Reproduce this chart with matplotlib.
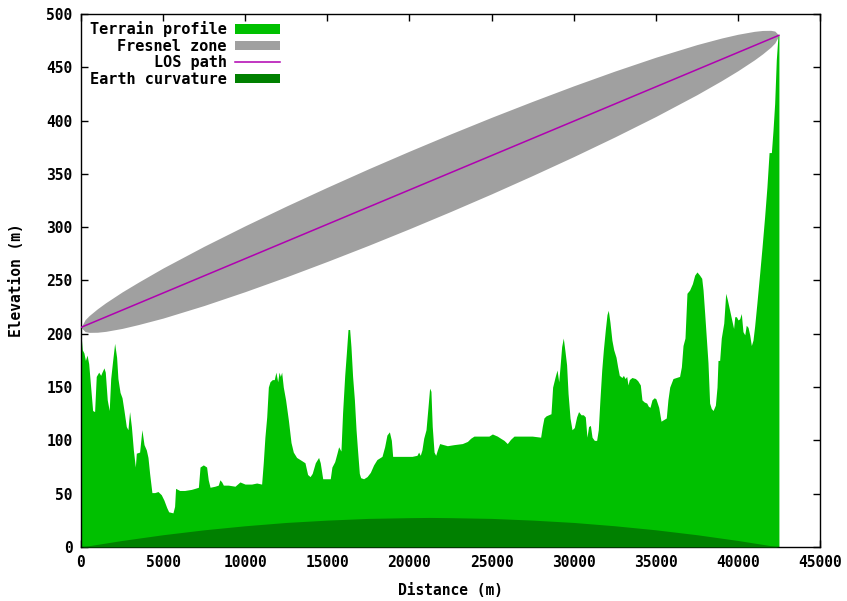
import matplotlib
matplotlib.use('Agg')
import matplotlib.pyplot as plt
import numpy as np

# terrain profile: distance (m), elevation (m)
terrain_dist = [
    0, 80, 180, 270, 370, 470, 590, 710, 830, 930, 1080, 1200, 1280, 1400, 1480,
    1600, 1720, 1810, 1930, 2050, 2170, 2250, 2380, 2500, 2620, 2760, 2860, 2960,
    3070, 3190, 3310, 3370, 3570, 3710, 3840, 3980, 4080, 4180, 4320, 4490, 4690,
    4890, 5050, 5220, 5340, 5600, 5700, 5760, 6010, 6310, 6720, 6940, 7150, 7250,
    7450, 7650, 7750, 7860, 8160, 8360, 8460, 8570, 8670, 8970, 9380, 9680, 9990,
    10390, 10700, 11000, 11100, 11200, 11310, 11410, 11510, 11650, 11770, 11870,
    11980, 12060, 12140, 12220, 12320, 12460, 12630, 12790, 12930, 13130, 13440,
    13640, 13800, 13950, 14080, 14270, 14470, 14570, 14720, 15180, 15280, 15450,
    15590, 15690, 15830, 15930, 16060, 16160, 16260, 16360, 16440, 16540, 16650,
    16750, 16830, 16950, 17030, 17210, 17420, 17620, 17820, 18020, 18330, 18490,
    18630, 18780, 18900, 18980, 19340, 20160, 20460, 20560, 20660, 20760, 20870,
    21010, 21130, 21230, 21310, 21390, 21500, 21600, 21700, 21840, 22310, 22710,
    23220, 23530, 23730, 23930, 24840, 25050, 25350, 25550, 25760, 25960, 26160,
    26370, 27480, 27990, 28090, 28190, 28320, 28620, 28720, 28880, 28990, 29090,
    29170, 29270, 29370, 29470, 29570, 29660, 29780, 29900, 30040, 30180, 30300,
    30450, 30590, 30710, 30810, 30910, 31020, 31120, 31260, 31400, 31500, 31600,
    31710, 31810, 31930, 32030, 32110, 32210, 32330, 32440, 32580, 32680, 32780,
    32940, 33030, 33130, 33230, 33310, 33390, 33550, 33760, 33900, 34060, 34160,
    34300, 34450, 34550, 34650, 34770, 34910, 35010, 35180, 35320, 35640, 35740,
    35850, 36050, 36250, 36450, 36560, 36660, 36780, 36900, 37060, 37230, 37370,
    37510, 37670, 37800, 37880, 37980, 38080, 38180, 38280, 38380, 38490, 38630,
    38730, 38790, 38890, 38990, 39140, 39260, 39360, 39500, 39640, 39740, 39810,
    39910, 40010, 40110, 40210, 40310, 40420, 40510, 40620, 40720, 40820, 40920,
    41020, 41160, 41330, 41470, 41630, 41770, 41900, 42040, 42140, 42240, 42340,
    42440, 42500,
]
terrain_elev = [
    200, 185, 182, 175, 180, 172, 150, 128, 127, 160, 164, 161, 164, 168, 164,
    138, 128, 158, 175, 191, 178, 158, 145, 140, 128, 113, 110, 127,
    113, 91, 75, 88, 89, 110, 96, 91, 84, 69, 51, 51, 52,
    49, 44, 37, 33, 32, 38, 55, 53, 53, 54, 55, 56, 75,
    77, 75, 63, 56, 57, 58, 63, 61, 58, 58, 57, 61, 59,
    59, 60, 59, 79, 103, 122, 150, 155, 157, 157, 164,
    155, 164, 160, 164, 150, 138, 119, 98, 89, 84, 81,
    79, 68, 66, 69, 79, 84, 79, 64, 64, 75, 80,
    88, 94, 90, 126, 161, 182, 204, 204, 188, 160, 138,
    110, 93, 69, 65, 64, 66, 70, 77, 82, 85, 94,
    105, 108, 100, 85, 85, 85, 86, 89, 86, 91, 102,
    110, 131, 149, 146, 113, 89, 86, 91, 97, 95, 96,
    97, 99, 102, 104, 104, 106, 104, 102, 100, 97, 101,
    104, 104, 103, 113, 121, 123, 125, 150, 160, 166, 155,
    169, 188, 196, 184, 171, 144, 121, 110, 112, 122, 127,
    124, 124, 122, 103, 113, 114, 103, 100, 100, 110, 138,
    166, 185, 204, 218, 222, 211, 194, 185, 178, 169, 161,
    159, 161, 158, 160, 152, 157, 159, 158, 156, 152, 138,
    136, 135, 132, 131, 138, 140, 139, 131, 118, 121, 138,
    150, 158, 159, 160, 169, 189, 196, 238, 241, 247, 255,
    258, 255, 252, 241, 219, 196, 173, 135, 130, 128, 133,
    150, 175, 175, 196, 210, 238, 232, 222, 212, 205, 216,
    216, 213, 214, 219, 202, 199, 208, 206, 199, 189, 194,
    207, 229, 257, 281, 310, 338, 370, 370, 391, 416, 457,
    479, 480,
]

# line of sight end points
los_dist = [0, 42500]
los_elev = [206, 480]

# first Fresnel zone radius (m) along the path
fresnel_dist = [0, 250, 500, 1000, 1500, 2500, 3500, 5000, 7500, 10000, 12500,
                15000, 17500, 20000, 21250, 22500, 25000, 27500, 30000, 32500,
                35000, 37500, 39000, 40000, 41000, 41500, 42000, 42250, 42500]
fresnel_rad = [0, 5.6, 7.9, 11.0, 13.4, 17.1, 19.9, 23.5, 27.8, 30.9, 33.2,
               34.8, 35.9, 36.4, 36.4, 36.4, 35.9, 34.8, 33.2, 30.9,
               27.8, 23.5, 20.0, 17.1, 13.4, 11.0, 7.9, 5.6, 0]

# earth curvature bulge (m)
curve_dist = [0, 2500, 5000, 7500, 10000, 12500, 15000, 17500, 20000, 21250,
              22500, 25000, 27500, 30000, 32500, 35000, 37500, 40000, 42500]
curve_elev = [0, 6.1, 11.5, 16.1, 19.9, 23.0, 25.2, 26.8, 27.5, 27.7,
              27.5, 26.8, 25.2, 23.0, 19.9, 16.1, 11.5, 6.1, 0]

plt.rcParams['font.family'] = 'DejaVu Sans Mono'
plt.rcParams['font.weight'] = 'bold'
plt.rcParams['font.size'] = 10.5

fig = plt.figure(figsize=(8.47, 6.01), dpi=100)
ax = fig.add_axes([0.0956, 0.0899, 0.8725, 0.8868])

fd = np.array(fresnel_dist, dtype=float)
fr = np.array(fresnel_rad)
los_at_f = np.interp(fd, los_dist, los_elev)

fres = ax.fill_between(fd, los_at_f - fr, los_at_f + fr, color='#a0a0a0',
                       linewidth=0, label='Fresnel zone', zorder=1)
terr = ax.fill_between(terrain_dist, 0, terrain_elev, color='#00c000',
                       linewidth=0, label='Terrain profile', zorder=2)
los, = ax.plot(los_dist, los_elev, color='#b000b0', linewidth=1.1,
               label='LOS path', zorder=3)
curv = ax.fill_between(curve_dist, 0, curve_elev, color='#008000',
                       linewidth=0, label='Earth curvature', zorder=4)

ax.set_xlim(0, 45000)
ax.set_ylim(0, 500)
ax.set_xticks(np.arange(0, 45001, 5000))
ax.set_yticks(np.arange(0, 501, 50))
ax.tick_params(direction='in', top=True, right=True, length=5, width=1,
               pad=6, labelsize=10.5)
for s in ax.spines.values():
    s.set_linewidth(1)

ax.set_xlabel('Distance (m)', fontsize=10.5, fontweight='bold', labelpad=9)
ax.set_ylabel('Elevation (m)', fontsize=10.5, fontweight='bold', labelpad=16)

ax.legend([terr, fres, los, curv],
          ['Terrain profile', 'Fresnel zone', 'LOS path', 'Earth curvature'],
          loc='upper left', bbox_to_anchor=(0.006, 0.995), frameon=False,
          markerfirst=False, handlelength=3.0, handleheight=0.6,
          handletextpad=0.5, labelspacing=0.1, borderpad=0.2,
          borderaxespad=0.1, prop={'size': 11, 'weight': 'bold'})

plt.savefig('out.png', dpi=100)
